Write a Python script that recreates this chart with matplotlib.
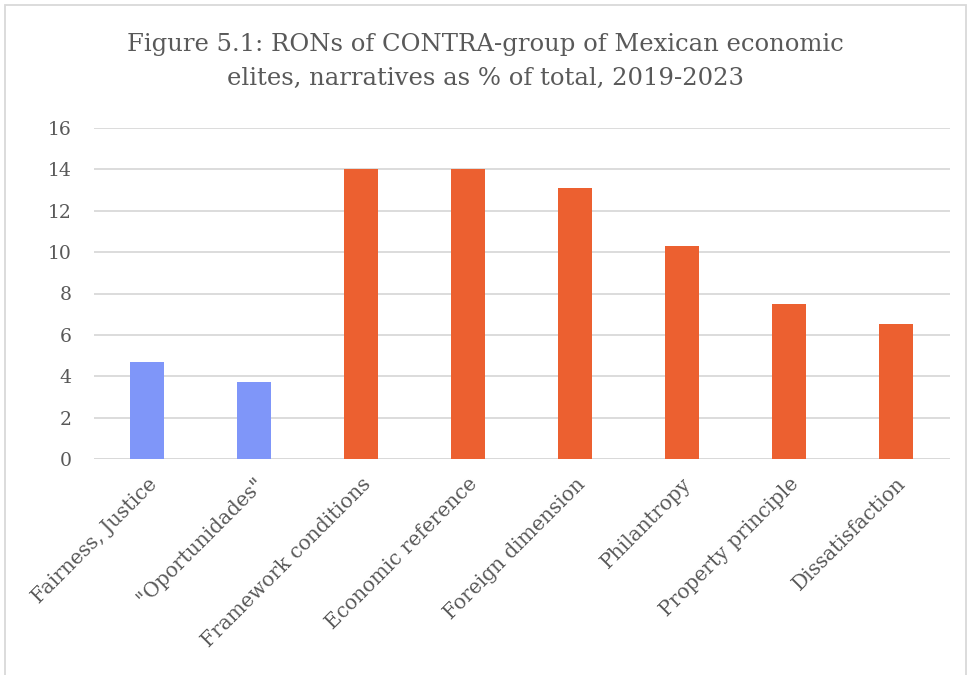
import matplotlib.pyplot as plt
from matplotlib.patches import Rectangle

categories = ['Fairness, Justice', '"Oportunidades"', 'Framework conditions',
              'Economic reference', 'Foreign dimension', 'Philantropy',
              'Property principle', 'Dissatisfaction']
values = [4.67, 3.74, 14.02, 14.02, 13.08, 10.28, 7.48, 6.54]
colors = ['#7F96F9', '#7F96F9'] + ['#EC6030'] * 6

text_col = '#595959'
grid_col = '#D9D9D9'
plt.rcParams['font.family'] = ['DejaVu Serif']

fig = plt.figure(figsize=(9.71, 6.75), dpi=100)
ax = fig.add_axes([93.5 / 971, 1 - 459 / 675, (949.5 - 93.5) / 971, (459 - 128) / 675])

x = range(len(categories))
ax.bar(x, values, width=0.32, color=colors, zorder=3)

ax.set_ylim(0, 16)
ax.set_xlim(-0.5, len(categories) - 0.5)
ax.set_yticks(range(0, 17, 2))
ax.yaxis.grid(True, color=grid_col, linewidth=1.3, zorder=0)
for s in ax.spines.values():
    s.set_visible(False)
ax.axhline(0, color=grid_col, linewidth=1.3, zorder=2)

ax.tick_params(axis='both', length=0, colors=text_col)
ax.tick_params(axis='y', pad=16, labelsize=13.5)
ax.set_xticks(list(x))
ax.set_xticklabels(categories, rotation=45, ha='right', va='top',
                   rotation_mode='anchor', color=text_col, fontsize=14.5)
ax.tick_params(axis='x', pad=11)

fig.text(0.5, 1 - 45 / 675, 'Figure 5.1: RONs of CONTRA-group of Mexican economic',
         ha='center', va='center', fontsize=17.5, color=text_col)
fig.text(0.5, 1 - 78 / 675, 'elites, narratives as % of total, 2019-2023',
         ha='center', va='center', fontsize=17.5, color=text_col)

# outer chart border
fig.patches.append(Rectangle((5 / 971, -0.01), 961 / 971, 1 - 5 / 675 + 0.01,
                             transform=fig.transFigure, fill=False,
                             edgecolor='#D9D9D9', linewidth=1.3))

fig.savefig('out.png', dpi=100)
